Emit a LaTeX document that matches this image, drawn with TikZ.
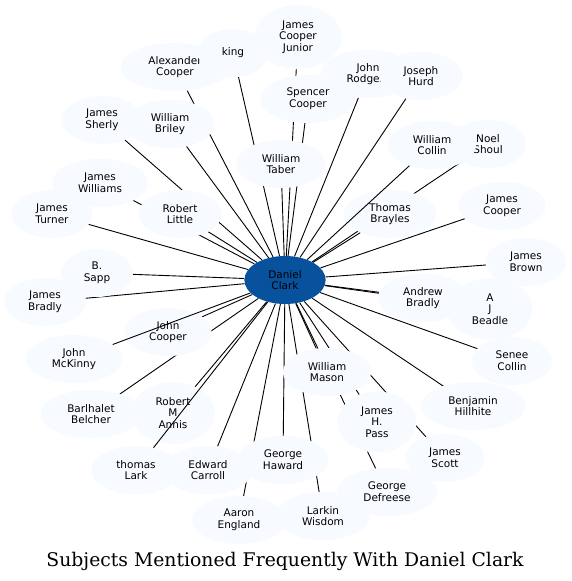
\documentclass[tikz,border=0pt]{standalone}
\usepackage{fontspec}
\newfontfamily\namefont{DejaVu Sans}
\newfontfamily\titlefont{DejaVu Serif}
\usepackage{tikz}
\usetikzlibrary{shapes.geometric}
\usetikzlibrary{backgrounds}
\definecolor{paleblue}{HTML}{F7FBFF}
\definecolor{deepblue}{HTML}{08519C}
\tikzset{
subject_node/.style={ellipse, fill=paleblue, text=black, inner xsep=12pt, inner ysep=6pt, minimum width=70pt, minimum height=48pt, align=center, font=\namefont\fontsize{10.5}{11.7}\selectfont},
focus_node/.style={subject_node, fill=deepblue},
link_line/.style={draw=black, line width=0.9pt},
title_text/.style={anchor=base, font=\titlefont\fontsize{18.8}{22}\selectfont}
}

\begin{document}
\begin{tikzpicture}[x=1pt,y=-1pt]
    \useasboundingbox (0,0) rectangle (571,581);
    % later nodes lie on top of earlier ones
    \node[subject_node] (alexander_cooper) at (175,67) {Alexander\\Cooper};
    \node[subject_node] (king) at (233,53) {king};
    \node[subject_node] (james_cooper_junior) at (298,37) {James\\Cooper\\Junior};
    \node[subject_node] (john_rodgers) at (368,74) {John\\Rodgers};
    \node[subject_node] (joseph_hurd) at (421,76) {Joseph\\Hurd};
    \node[subject_node] (spencer_cooper) at (308,99) {Spencer\\Cooper};
    \node[subject_node] (james_sherly) at (102,120) {James\\Sherly};
    \node[subject_node] (william_briley) at (170,124) {William\\Briley};
    \node[subject_node] (william_taber) at (281,164) {William\\Taber};
    \node[subject_node] (noel_shoul) at (488,144) {Noel\\Shoul};
    \node[subject_node] (william_collin) at (432,145) {William\\Collin};
    \node[subject_node] (james_williams) at (100,183) {James\\Williams};
    \node[subject_node] (james_turner) at (52,214) {James\\Turner};
    \node[subject_node] (robert_little) at (180,214) {Robert\\Little};
    \node[subject_node] (thomas_brayles) at (390,214) {Thomas\\Brayles};
    \node[subject_node] (james_cooper) at (502,206) {James\\Cooper};
    \node[subject_node] (james_brown) at (526,262) {James\\Brown};
    \node[subject_node] (b_sapp) at (97,273) {B.\\Sapp};
    \node[subject_node] (james_bradly) at (45,302) {James\\Bradly};
    \node[subject_node] (andrew_bradly) at (423,298) {Andrew\\Bradly};
    \node[subject_node] (a_j_beadle) at (490,309) {A\\J\\Beadle};
    \node[subject_node] (john_cooper) at (168,332) {John\\Cooper};
    \node[subject_node] (john_mckinny) at (74,359) {John\\McKinny};
    \node[subject_node] (senee_collin) at (512,361) {Senee\\Collin};
    \node[subject_node] (william_mason) at (327,372) {William\\Mason};
    \node[subject_node] (barlhalet_belcher) at (91,414) {Barlhalet\\Belcher};
    \node[subject_node] (robert_m_annis) at (173,413) {Robert\\M\\Annis};
    \node[subject_node] (james_h_pass) at (377,422) {James\\H.\\Pass};
    \node[subject_node] (benjamin_hillhite) at (473,406) {Benjamin\\Hillhite};
    \node[subject_node] (james_scott) at (445,458) {James\\Scott};
    \node[subject_node] (thomas_lark) at (136,470) {thomas\\Lark};
    \node[subject_node] (edward_carroll) at (208,470) {Edward\\Carroll};
    \node[subject_node] (george_haward) at (283,460) {George\\Haward};
    \node[subject_node] (george_defreese) at (387,492) {George\\Defreese};
    \node[subject_node] (aaron_england) at (239,520) {Aaron\\England};
    \node[subject_node] (larkin_wisdom) at (323,516) {Larkin\\Wisdom};
    \node[focus_node] (daniel_clark) at (285,280) {Daniel\\Clark};

    \begin{scope}[on background layer]
        \fill[white] (0,0) rectangle (571,581);
        \foreach \who in {alexander_cooper, king, james_cooper_junior, john_rodgers, joseph_hurd,
            spencer_cooper, james_sherly, william_briley, william_taber, noel_shoul,
            james_williams, james_turner, robert_little, thomas_brayles, james_cooper,
            james_brown, b_sapp, james_bradly, andrew_bradly, a_j_beadle, john_cooper,
            senee_collin, william_mason, barlhalet_belcher, robert_m_annis, james_h_pass,
            benjamin_hillhite, james_scott, edward_carroll, george_haward,
            george_defreese, aaron_england, larkin_wisdom}
            \draw[link_line] (daniel_clark) -- (\who);
    \end{scope}
    % these run across other nodes
    \foreach \who in {william_collin, john_mckinny, thomas_lark}
        \draw[link_line] (daniel_clark) -- (\who);

    \node[title_text] (chart_title) at (285,566) {Subjects Mentioned Frequently With Daniel Clark};
\end{tikzpicture}
\end{document}
